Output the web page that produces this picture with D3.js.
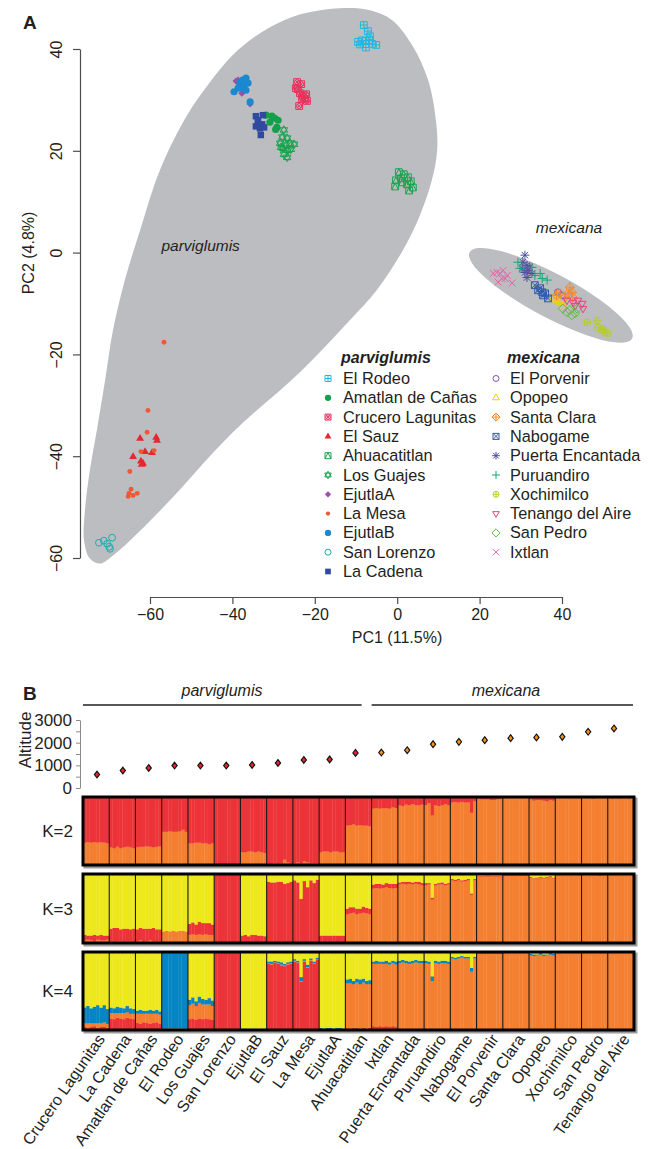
<!DOCTYPE html>
<html><head><meta charset="utf-8">
<script src="https://cdn.jsdelivr.net/npm/d3@7"></script>
<style>
body{margin:0;background:#fff;}
svg{display:block;font-family:"Liberation Sans",Arial,Helvetica,sans-serif;}
</style></head><body>
<svg id="chart" width="651" height="1149"></svg>
<script>
// ---------------- PCA data (PC1, PC2) ----------------
const elRodeo = [[-8.1,44.7],[-7.1,43.5],[-6.6,42.5],[-8.5,41.7],[-9.5,41.4],[-7.6,41.6],[-6.1,41.0],[-5.1,40.8],[-7.6,40.3],[-9.0,40.9],[-6.8,41.7]];
const amatlan = [[-31.8,27.0],[-30.4,26.8],[-29.7,26.4],[-28.9,26.0],[-30.9,25.6],[-29.2,24.6],[-29.5,24.2]];
const crucero = [[-24.3,33.5],[-23.3,33.1],[-24.1,32.1],[-23.6,31.3],[-22.9,30.9],[-22.4,30.1],[-21.9,29.8],[-23.8,28.8],[-23.1,30.3],[-24.6,32.3],[-22.1,31.1]];
const elSauz = [[-62.4,-36.5],[-58.5,-36.3],[-58.3,-36.9],[-61.2,-39.1],[-59.5,-39.3],[-64.1,-40.1],[-62.2,-41.0],[-61.7,-41.4],[-62.0,-41.6]];
const ahuacatitlan = [[0.4,15.8],[1.6,15.4],[2.6,14.8],[3.3,14.0],[-0.3,14.2],[1.2,13.8],[2.4,13.4],[3.8,12.8],[-0.5,13.0],[2.9,12.2],[0.9,14.6]];
const losGuajes = [[-27.5,24.1],[-27.9,22.7],[-26.7,22.5],[-28.4,21.5],[-27.0,21.1],[-26.0,21.5],[-25.0,21.3],[-27.7,20.5],[-26.5,20.1],[-27.5,19.3],[-26.7,18.7],[-28.2,20.7],[-25.8,20.3]];
const ejutlaA = [[-38.6,33.9],[-37.7,31.3],[-39.1,33.7],[-35.7,29.2]];
const laMesa = [[-56.6,-17.6],[-60.5,-31.0],[-60.7,-35.3],[-62.2,-39.1],[-59.0,-38.9],[-64.9,-43.0],[-64.6,-46.5],[-65.3,-47.9],[-64.1,-47.7],[-63.1,-47.3],[-65.1,-47.3]];
const ejutlaB = [[-39.6,31.6],[-38.2,33.3],[-37.5,33.9],[-36.7,34.3],[-37.2,32.8],[-36.2,33.3],[-37.7,32.3],[-38.6,32.3],[-36.7,31.9],[-35.7,29.6]];
const sanLorenzo = [[-72.4,-57.0],[-71.2,-56.6],[-69.2,-56.0],[-69.9,-57.8],[-70.4,-57.2],[-69.7,-58.2]];
const laCadena = [[-34.3,26.8],[-32.6,27.0],[-33.8,25.6],[-32.8,25.2],[-34.3,24.8],[-33.3,24.4],[-32.3,24.6],[-33.1,23.1],[-33.8,26.0]];

const elPorvenir = [[39.0,-7.8],[40.0,-8.4]];
const opopeo = [[38.7,-9.4],[39.5,-9.8],[37.8,-9.0],[40.2,-10.4]];
const santaClara = [[41.9,-6.8],[41.5,-8.0],[42.4,-7.8],[39.5,-8.0],[38.7,-8.4],[40.7,-8.8],[42.6,-8.8]];
const nabogame = [[33.4,-6.4],[34.2,-7.4],[35.2,-7.8],[35.9,-8.0],[36.6,-9.0],[35.4,-8.4],[34.7,-7.0]];
const puertaEncantada = [[31.0,-0.5],[30.5,-1.9],[31.5,-2.5],[30.3,-3.1],[31.7,-3.5],[31.0,-3.9],[32.7,-4.1],[31.5,-4.9],[32.2,-2.9]];
const puruandiro = [[29.3,-1.9],[29.8,-3.1],[34.7,-4.1],[33.4,-4.5],[36.4,-5.4],[35.2,-5.1],[32.7,-2.9]];
const xochimilco = [[46.1,-13.7],[48.5,-13.3],[48.7,-14.7],[49.7,-15.3],[50.4,-15.7],[51.1,-15.9],[49.9,-14.9]];
const tenango = [[41.2,-9.4],[43.9,-9.4],[44.9,-10.0],[45.1,-11.0],[43.2,-10.4],[42.7,-9.8]];
const sanPedro = [[40.2,-11.0],[41.9,-11.3],[43.7,-11.0],[42.4,-12.3],[43.2,-11.9],[41.2,-11.7]];
const ixtlan = [[23.3,-4.1],[24.2,-3.9],[25.0,-4.1],[25.7,-3.5],[26.7,-4.5],[25.4,-5.1],[27.9,-6.0],[24.5,-5.8],[26.2,-5.1]];

const parvNames = ["El Rodeo","Amatlan de Cañas","Crucero Lagunitas","El Sauz","Ahuacatitlan","Los Guajes","EjutlaA","La Mesa","EjutlaB","San Lorenzo","La Cadena"];
const parvColors = ["#23b6e3","#12a04c","#e8325c","#e8262f","#1ba34e","#1ba34e","#9d4fa5","#ef5835","#1b88cf","#17aeb0","#2f4a9f"];
const parvSymbols = ["sqplus","circle","sqcirx","tri","sqtri","star6","diamond","dot","circle","ocircle","square"];
const parvPoints = [elRodeo, amatlan, crucero, elSauz, ahuacatitlan, losGuajes, ejutlaA, laMesa, ejutlaB, sanLorenzo, laCadena];

const mexNames = ["El Porvenir","Opopeo","Santa Clara","Nabogame","Puerta Encantada","Puruandiro","Xochimilco","Tenango del Aire","San Pedro","Ixtlan"];
const mexColors = ["#7d55a7","#f4d00c","#f48a2b","#2f5bab","#4c4ea0","#17a67b","#b6cd2c","#e8407d","#5fbb45","#e95fa8"];
const mexSymbols = ["ocircle","otri","diamplus","sqx","asterisk","plus","cirplus","otridown","odiamond","x"];
const mexPoints = [elPorvenir, opopeo, santaClara, nabogame, puertaEncantada, puruandiro, xochimilco, tenango, sanPedro, ixtlan];

// hull outline of parviglumis (PC1, PC2)
const parvHull = [[-72.1,-61.1],[-74.6,-60.1],[-76.0,-56.6],[-75.8,-50.7],[-74.6,-42.8],[-72.9,-34.9],[-70.9,-25.1],[-69.0,-15.3],[-66.1,-5.4],[-62.4,4.4],[-57.6,16.2],[-51.0,27.0],[-45.4,33.5],[-39.9,38.8],[-33.3,43.1],[-24.8,46.5],[-13.9,48.0],[-6.6,47.6],[-1.3,45.7],[3.6,40.8],[7.5,33.9],[9.4,26.0],[9.7,20.1],[8.4,14.2],[5.5,7.3],[1.4,0.5],[-4.9,-7.3],[-11.5,-13.3],[-23.6,-23.5],[-39.9,-35.3],[-55.9,-49.3],[-64.9,-56.6],[-69.3,-59.7]];
const mexHullCenter = [37.3,-8.4];

const pcTicks = [-60,-40,-20,0,20,40];

// ---------------- Structure data ----------------
const structPops = ["Crucero Lagunitas","La Cadena","Amatlan de Cañas","El Rodeo","Los Guajes","San Lorenzo","EjutlaB","El Sauz","La Mesa","EjutlaA","Ahuacatitlan","Ixtlan","Puerta Encantada","Puruandiro","Nabogame","El Porvenir","Santa Clara","Opopeo","Xochimilco","San Pedro","Tenango del Aire"];
const altitude = [593,770,885,990,990,990,1018,1106,1239,1262,1549,1566,1668,1934,2035,2111,2199,2230,2257,2478,2628];
const altTicks = [0,500,1000,1500,2000,2500,3000];

const k2Orange = [
 [0.33,0.34,0.33,0.34,0.33,0.34,0.33,0.32],
 [0.26,0.25,0.27,0.25,0.26,0.27,0.26,0.25],
 [0.26,0.27,0.27,0.28,0.27,0.26,0.27,0.28],
 [0.49,0.49,0.50,0.49,0.49,0.50,0.52,0.49],
 [0.32,0.32,0.33,0.33,0.32,0.32,0.31,0.32],
 [0.01,0.01,0.01,0.00,0.01,0.01,0.00,0.01],
 [0.19,0.19,0.20,0.20,0.19,0.20,0.19,0.18],
 [0.02,0.02,0.03,0.02,0.03,0.08,0.04,0.02],
 [0.03,0.04,0.03,0.06,0.04,0.03,0.03,0.03],
 [0.19,0.20,0.20,0.19,0.20,0.20,0.19,0.19],
 [0.58,0.59,0.60,0.58,0.59,0.58,0.58,0.57],
 [0.83,0.84,0.83,0.84,0.84,0.83,0.85,0.84],
 [0.88,0.87,0.89,0.88,0.90,0.88,0.88,0.89],
 [0.88,0.91,0.73,0.88,0.87,0.88,0.90,0.88],
 [0.92,0.93,0.92,0.93,0.92,0.92,0.77,0.94],
 [0.98,0.97,0.97,0.97,0.96,0.96,0.97,0.98],
 [0.99,0.99,0.99,0.99,0.99,0.99,0.99,0.99],
 [0.97,0.95,0.96,0.96,0.95,0.94,0.96,0.95],
 [0.99,0.99,0.99,0.99,0.99,0.99,0.99,0.99],
 [0.99,0.99,0.99,0.98,0.99,0.99,0.99,0.99],
 [0.99,0.98,0.99,0.98,0.99,0.99,0.98,0.99]
];
const k3Orange = [
 [0.04,0.05,0.04,0.03,0.05,0.04,0.04,0.05],
 [0.03,0.02,0.03,0.03,0.02,0.03,0.03,0.02],
 [0.03,0.04,0.02,0.03,0.04,0.03,0.02,0.03],
 [0.17,0.18,0.17,0.18,0.17,0.18,0.18,0.17],
 [0.12,0.13,0.12,0.13,0.12,0.13,0.12,0.12],
 [0.00,0.01,0.00,0.00,0.01,0.00,0.00,0.01],
 [0.01,0.01,0.01,0.02,0.01,0.01,0.01,0.01],
 [0.01,0.02,0.01,0.01,0.02,0.01,0.01,0.01],
 [0.01,0.01,0.02,0.01,0.01,0.01,0.01,0.01],
 [0.02,0.01,0.02,0.01,0.02,0.01,0.02,0.01],
 [0.42,0.43,0.44,0.42,0.43,0.44,0.43,0.42],
 [0.79,0.80,0.79,0.80,0.81,0.80,0.79,0.80],
 [0.85,0.86,0.85,0.86,0.85,0.86,0.85,0.84],
 [0.84,0.85,0.63,0.84,0.85,0.85,0.84,0.85],
 [0.91,0.90,0.91,0.89,0.90,0.91,0.70,0.91],
 [0.96,0.96,0.96,0.97,0.96,0.96,0.96,0.96],
 [0.98,0.98,0.98,0.98,0.98,0.98,0.98,0.98],
 [0.95,0.93,0.94,0.95,0.94,0.95,0.96,0.94],
 [0.99,0.99,0.99,0.99,0.99,0.99,0.99,0.99],
 [0.99,0.99,0.99,0.99,0.99,0.98,0.99,0.99],
 [0.99,0.99,0.99,0.99,0.99,0.99,0.99,0.99]
];
const k3Red = [
 [0.08,0.06,0.07,0.09,0.06,0.08,0.07,0.06],
 [0.18,0.20,0.19,0.17,0.19,0.18,0.17,0.19],
 [0.17,0.18,0.19,0.18,0.17,0.19,0.18,0.17],
 [0.00,0.00,0.00,0.00,0.00,0.00,0.00,0.00],
 [0.16,0.17,0.15,0.18,0.17,0.16,0.17,0.15],
 [0.99,0.98,0.99,0.99,0.98,0.99,0.99,0.98],
 [0.10,0.11,0.09,0.10,0.11,0.10,0.10,0.09],
 [0.88,0.86,0.87,0.88,0.87,0.85,0.86,0.88],
 [0.90,0.87,0.62,0.89,0.80,0.90,0.86,0.91],
 [0.09,0.10,0.09,0.10,0.09,0.10,0.09,0.10],
 [0.08,0.09,0.08,0.08,0.07,0.09,0.08,0.08],
 [0.06,0.06,0.07,0.05,0.06,0.06,0.07,0.06],
 [0.03,0.03,0.04,0.03,0.03,0.03,0.04,0.03],
 [0.03,0.02,0.03,0.02,0.02,0.03,0.02,0.02],
 [0.02,0.02,0.02,0.02,0.02,0.02,0.02,0.02],
 [0.01,0.01,0.01,0.01,0.01,0.01,0.01,0.01],
 [0.01,0.01,0.01,0.01,0.01,0.01,0.01,0.01],
 [0.01,0.01,0.01,0.01,0.01,0.01,0.01,0.01],
 [0.00,0.00,0.00,0.00,0.00,0.00,0.00,0.00],
 [0.00,0.00,0.00,0.00,0.00,0.01,0.00,0.00],
 [0.01,0.00,0.01,0.00,0.01,0.00,0.01,0.00]
];
const k4Red = [
 [0.04,0.03,0.04,0.05,0.03,0.04,0.04,0.03],
 [0.15,0.14,0.16,0.15,0.14,0.16,0.15,0.14],
 [0.09,0.08,0.10,0.09,0.08,0.09,0.10,0.08],
 [0.01,0.01,0.01,0.01,0.01,0.01,0.01,0.01],
 [0.14,0.15,0.13,0.15,0.14,0.15,0.14,0.13],
 [0.99,0.99,0.99,0.99,0.99,0.99,0.99,0.99],
 [0.01,0.01,0.00,0.01,0.01,0.00,0.01,0.01],
 [0.85,0.84,0.86,0.85,0.83,0.82,0.84,0.85],
 [0.88,0.86,0.62,0.88,0.80,0.89,0.85,0.90],
 [0.01,0.00,0.01,0.01,0.00,0.01,0.01,0.00],
 [0.03,0.02,0.03,0.03,0.02,0.03,0.02,0.03],
 [0.05,0.04,0.05,0.04,0.05,0.04,0.05,0.04],
 [0.01,0.01,0.01,0.01,0.01,0.01,0.01,0.01],
 [0.01,0.01,0.01,0.01,0.01,0.01,0.01,0.01],
 [0.01,0.01,0.01,0.01,0.01,0.01,0.01,0.01],
 [0.01,0.01,0.01,0.01,0.01,0.01,0.01,0.01],
 [0.01,0.01,0.01,0.01,0.01,0.01,0.01,0.01],
 [0.01,0.01,0.01,0.01,0.01,0.01,0.01,0.01],
 [0.01,0.01,0.01,0.01,0.01,0.01,0.01,0.01],
 [0.01,0.01,0.01,0.01,0.01,0.01,0.01,0.01],
 [0.01,0.01,0.01,0.01,0.01,0.01,0.01,0.01]
];
const k4Orange = [
 [0.05,0.06,0.05,0.04,0.06,0.05,0.06,0.05],
 [0.07,0.08,0.06,0.07,0.08,0.07,0.06,0.07],
 [0.12,0.13,0.11,0.12,0.13,0.12,0.11,0.12],
 [0.01,0.01,0.01,0.01,0.01,0.01,0.01,0.01],
 [0.18,0.19,0.18,0.20,0.19,0.18,0.19,0.18],
 [0.00,0.00,0.00,0.00,0.00,0.00,0.00,0.00],
 [0.00,0.00,0.00,0.00,0.00,0.00,0.00,0.00],
 [0.01,0.01,0.01,0.01,0.01,0.01,0.01,0.01],
 [0.01,0.01,0.01,0.01,0.01,0.01,0.01,0.01],
 [0.00,0.00,0.00,0.00,0.00,0.00,0.00,0.00],
 [0.57,0.58,0.56,0.58,0.57,0.58,0.57,0.56],
 [0.80,0.81,0.80,0.81,0.80,0.80,0.81,0.80],
 [0.85,0.86,0.85,0.84,0.85,0.86,0.85,0.85],
 [0.85,0.84,0.62,0.85,0.84,0.85,0.85,0.84],
 [0.91,0.90,0.91,0.92,0.91,0.91,0.74,0.91],
 [0.97,0.97,0.97,0.97,0.97,0.97,0.97,0.97],
 [0.98,0.98,0.98,0.98,0.98,0.98,0.98,0.98],
 [0.95,0.94,0.95,0.96,0.94,0.95,0.96,0.95],
 [0.98,0.98,0.98,0.98,0.98,0.98,0.98,0.98],
 [0.98,0.98,0.98,0.98,0.98,0.98,0.98,0.98],
 [0.98,0.98,0.98,0.98,0.98,0.98,0.98,0.98]
];
const k4Blue = [
 [0.20,0.22,0.19,0.21,0.23,0.20,0.22,0.19],
 [0.07,0.06,0.08,0.07,0.06,0.08,0.07,0.06],
 [0.04,0.05,0.04,0.04,0.05,0.04,0.05,0.04],
 [0.97,0.97,0.97,0.97,0.97,0.97,0.97,0.97],
 [0.07,0.08,0.06,0.08,0.07,0.06,0.08,0.07],
 [0.00,0.00,0.00,0.00,0.00,0.00,0.00,0.00],
 [0.01,0.01,0.01,0.01,0.01,0.01,0.01,0.01],
 [0.02,0.03,0.02,0.02,0.03,0.02,0.02,0.02],
 [0.02,0.02,0.05,0.02,0.03,0.02,0.02,0.02],
 [0.02,0.02,0.02,0.02,0.02,0.02,0.02,0.02],
 [0.05,0.06,0.04,0.05,0.06,0.05,0.04,0.05],
 [0.03,0.04,0.03,0.03,0.04,0.03,0.03,0.04],
 [0.03,0.03,0.03,0.03,0.03,0.03,0.03,0.03],
 [0.03,0.03,0.06,0.03,0.03,0.03,0.03,0.03],
 [0.02,0.02,0.02,0.02,0.02,0.02,0.05,0.02],
 [0.01,0.01,0.01,0.01,0.01,0.01,0.01,0.01],
 [0.01,0.01,0.01,0.01,0.01,0.01,0.01,0.01],
 [0.02,0.02,0.01,0.02,0.02,0.01,0.02,0.02],
 [0.01,0.01,0.01,0.01,0.01,0.01,0.01,0.01],
 [0.01,0.01,0.01,0.01,0.01,0.01,0.01,0.01],
 [0.01,0.01,0.01,0.01,0.01,0.01,0.01,0.01]
];

const cRed = "#ec3338", cOrange = "#f47f30", cYellow = "#ece81c", cBlue = "#0585c4";

// ---------------- drawing ----------------
const svg = d3.select("#chart");
const FONT = '"Liberation Sans",Arial,Helvetica,sans-serif';

function symbolD(t, r) {
  const p = d3.path();
  const sq = (s) => p.rect(-s, -s, 2*s, 2*s);
  const circ = (s) => { p.moveTo(s, 0); p.arc(0, 0, s, 0, 2*Math.PI); };
  const plus = (s) => { p.moveTo(-s,0); p.lineTo(s,0); p.moveTo(0,-s); p.lineTo(0,s); };
  const xx = (s) => { p.moveTo(-s,-s); p.lineTo(s,s); p.moveTo(-s,s); p.lineTo(s,-s); };
  const triUp = (s) => { p.moveTo(0,-s*1.25); p.lineTo(s*1.1,s*0.65); p.lineTo(-s*1.1,s*0.65); p.closePath(); };
  const triDn = (s) => { p.moveTo(0,s*1.25); p.lineTo(s*1.1,-s*0.65); p.lineTo(-s*1.1,-s*0.65); p.closePath(); };
  const diam = (s) => { p.moveTo(0,-s); p.lineTo(s,0); p.lineTo(0,s); p.lineTo(-s,0); p.closePath(); };
  switch (t) {
    case "sqplus": sq(r); plus(r); break;
    case "sqcirx": sq(r); circ(r*0.75); xx(r*0.55); break;
    case "sqtri": sq(r); p.moveTo(-r,r); p.lineTo(0,-r); p.lineTo(r,r); break;
    case "star6": triUp(r); triDn(r); break;
    case "ocircle": circ(r); break;
    case "otri": triUp(r); break;
    case "otridown": triDn(r); break;
    case "diamplus": diam(r*1.35); plus(r*1.35); break;
    case "sqx": sq(r); xx(r); break;
    case "asterisk": plus(r*1.3); xx(r*0.95); break;
    case "plus": plus(r*1.35); break;
    case "cirplus": circ(r); plus(r); break;
    case "odiamond": diam(r*1.35); break;
    case "x": xx(r); break;
    case "circle": circ(r*1.05); break;
    case "dot": circ(r*0.72); break;
    case "tri": triUp(r*1.05); break;
    case "diamond": diam(r*1.05); break;
    case "square": sq(r*0.95); break;
  }
  return p.toString();
}
const filledSym = new Set(["circle","dot","tri","diamond","square"]);
function styleSym(sel, type, color) {
  if (filledSym.has(type)) sel.attr("fill", color).attr("stroke", "none");
  else sel.attr("fill", "none").attr("stroke", color).attr("stroke-width", 1);
}

// ----- Panel A -----
const xPC = d3.scaleLinear().domain([-60, 40]).range([150, 562]);
const yPC = d3.scaleLinear().domain([-60, 40]).range([558, 49]);

svg.append("text").attr("x", 23).attr("y", 29).attr("font-size", 19).attr("font-weight", "bold").attr("fill", "#231f20").text("A");

svg.append("path")
  .attr("d", d3.line().x(d => xPC(d[0])).y(d => yPC(d[1])).curve(d3.curveCatmullRomClosed.alpha(0.5))(parvHull))
  .attr("fill", "#bcbdc0");
svg.append("ellipse")
  .attr("cx", xPC(mexHullCenter[0])).attr("cy", yPC(mexHullCenter[1]))
  .attr("rx", 92).attr("ry", 22)
  .attr("transform", `rotate(28 ${xPC(mexHullCenter[0])} ${yPC(mexHullCenter[1])})`)
  .attr("fill", "#bcbdc0");

svg.append("text").attr("x", xPC(-47.7)).attr("y", yPC(0.4)).attr("text-anchor", "middle")
  .attr("font-size", 15.5).attr("font-style", "italic").attr("fill", "#231f20").text("parviglumis");
svg.append("text").attr("x", xPC(41.7)).attr("y", yPC(3.8)).attr("text-anchor", "middle")
  .attr("font-size", 15.5).attr("font-style", "italic").attr("fill", "#231f20").text("mexicana");

const ptsG = svg.append("g");
function drawPop(points, type, color) {
  const g = ptsG.append("g");
  points.forEach(d => {
    const s = g.append("path").attr("d", symbolD(type, 3.4))
      .attr("transform", `translate(${xPC(d[0])},${yPC(d[1])})`);
    styleSym(s, type, color);
  });
}
parvPoints.forEach((pts, i) => drawPop(pts, parvSymbols[i], parvColors[i]));
mexPoints.forEach((pts, i) => drawPop(pts, mexSymbols[i], mexColors[i]));

// axes
const xAx = svg.append("g").attr("transform", "translate(0,597)")
  .call(d3.axisBottom(xPC).tickValues(pcTicks).tickSize(7).tickSizeOuter(0).tickPadding(5));
const yAx = svg.append("g").attr("transform", "translate(80,0)")
  .call(d3.axisLeft(yPC).tickValues(pcTicks).tickSize(7).tickSizeOuter(0));
[xAx, yAx].forEach(a => {
  a.select(".domain").attr("stroke", "#4d4d4f").attr("stroke-width", 1.2);
  a.selectAll(".tick line").attr("stroke", "#4d4d4f").attr("stroke-width", 1.2);
  a.selectAll("text").attr("font-size", 16).attr("fill", "#231f20").attr("font-family", FONT);
});
yAx.selectAll(".tick text").attr("text-anchor", "middle").attr("x", null).attr("dy", null)
  .attr("transform", "translate(-18,0) rotate(-90)");
svg.append("text").attr("x", 397).attr("y", 643).attr("text-anchor", "middle").attr("font-size", 16)
  .attr("fill", "#231f20").text("PC1 (11.5%)");
svg.append("text").attr("transform", "translate(34,253) rotate(-90)").attr("text-anchor", "middle")
  .attr("font-size", 16).attr("fill", "#231f20").text("PC2 (4.8%)");

// legend
const legY0 = 384, legStep = 19.3;
svg.append("text").attr("x", 341).attr("y", 363).attr("font-size", 16).attr("font-weight", "bold")
  .attr("font-style", "italic").attr("fill", "#231f20").text("parviglumis");
svg.append("text").attr("x", 507).attr("y", 363).attr("font-size", 16).attr("font-weight", "bold")
  .attr("font-style", "italic").attr("fill", "#231f20").text("mexicana");
function legendCol(names, colors, syms, sx, tx) {
  names.forEach((n, i) => {
    const y = legY0 + i * legStep;
    const s = svg.append("path").attr("d", symbolD(syms[i], 3.0))
      .attr("transform", `translate(${sx},${y - 5.5})`);
    styleSym(s, syms[i], colors[i]);
    svg.append("text").attr("x", tx).attr("y", y).attr("font-size", 16.3).attr("fill", "#231f20").text(n);
  });
}
legendCol(parvNames, parvColors, parvSymbols, 328, 343);
legendCol(mexNames, mexColors, mexSymbols, 496, 510);

// ----- Panel B -----
svg.append("text").attr("x", 23).attr("y", 700).attr("font-size", 19).attr("font-weight", "bold").attr("fill", "#231f20").text("B");

const xPop = d3.scaleBand().domain(structPops).range([83, 634]).paddingInner(0);
const xAlt = d3.scalePoint().domain(structPops).range([97, 614]);
const yAlt = d3.scaleLinear().domain([0, 3000]).range([788, 720]);

const nParv = 11;
svg.append("line").attr("x1", xPop(structPops[0])).attr("x2", xPop(structPops[nParv-1]) + xPop.bandwidth() - 10)
  .attr("y1", 705).attr("y2", 705).attr("stroke", "#231f20").attr("stroke-width", 1.3);
svg.append("line").attr("x1", xPop(structPops[nParv])).attr("x2", xPop(structPops[20]) + xPop.bandwidth() - 1)
  .attr("y1", 705).attr("y2", 705).attr("stroke", "#231f20").attr("stroke-width", 1.3);
svg.append("text").attr("x", 222).attr("y", 696).attr("text-anchor", "middle").attr("font-size", 16)
  .attr("font-style", "italic").attr("fill", "#231f20").text("parviglumis");
svg.append("text").attr("x", 506).attr("y", 696).attr("text-anchor", "middle").attr("font-size", 16)
  .attr("font-style", "italic").attr("fill", "#231f20").text("mexicana");

const altAx = svg.append("g").attr("transform", "translate(80,0)")
  .call(d3.axisLeft(yAlt).tickValues(altTicks).tickSize(4).tickSizeOuter(0).tickPadding(4)
    .tickFormat(d => d % 1000 === 0 ? d : ""));
altAx.select(".domain").attr("stroke", "#8a8a8c");
altAx.selectAll(".tick line").attr("stroke", "#8a8a8c");
altAx.selectAll("text").attr("font-size", 17).attr("fill", "#231f20").attr("font-family", FONT);
svg.append("text").attr("transform", "translate(31,740) rotate(-90)").attr("text-anchor", "middle")
  .attr("font-size", 17).attr("fill", "#231f20").text("Altitude");

svg.append("g").selectAll("path").data(structPops).join("path")
  .attr("d", d3.symbol(d3.symbolDiamond, 18)())
  .attr("transform", d => `translate(${xAlt(d)},${yAlt(altitude[structPops.indexOf(d)])}) scale(1.15,0.85)`)
  .attr("fill", (d, i) => i < nParv ? "#e8262f" : "#f7941d")
  .attr("stroke", "#111").attr("stroke-width", 1.1);

// structure panels
const panels = [
  {label: "K=2", top: 797, bottom: 865, comps: [k2Orange], colors: [cOrange, cRed]},
  {label: "K=3", top: 874, bottom: 943, comps: [k3Orange, k3Red], colors: [cOrange, cRed, cYellow]},
  {label: "K=4", top: 952, bottom: 1030, comps: [k4Red, k4Orange, k4Blue], colors: [cRed, cOrange, cBlue, cYellow]}
];
panels.forEach(pn => {
  const g = svg.append("g");
  const yK = d3.scaleLinear().domain([0, 1]).range([pn.bottom, pn.top]);
  g.append("rect").attr("x", xPop.range()[0] + 2).attr("y", pn.top + 2)
    .attr("width", xPop.range()[1] - xPop.range()[0]).attr("height", pn.bottom - pn.top)
    .attr("fill", "none").attr("stroke", "#9b9b9b").attr("stroke-width", 3);
  structPops.forEach((pop, pi) => {
    const nInd = pn.comps[0][pi].length;
    const xi = d3.scaleBand().domain(d3.range(nInd)).range([xPop(pop), xPop(pop) + xPop.bandwidth()]);
    for (let k = 0; k < nInd; k++) {
      const vals = pn.comps.map(c => c[pi][k]);
      const sum = d3.sum(vals);
      vals.push(Math.max(0, 1 - sum));
      let acc = 0;
      vals.forEach((v, ci) => {
        if (v <= 0) return;
        g.append("rect").attr("x", xi(k)).attr("width", xi.bandwidth() + 0.3)
          .attr("y", yK(Math.min(1, acc + v))).attr("height", yK(acc) - yK(Math.min(1, acc + v)) + 0.2)
          .attr("fill", pn.colors[ci]);
        acc += v;
      });
    }
  });
  structPops.slice(1).forEach(pop => {
    g.append("line").attr("x1", xPop(pop)).attr("x2", xPop(pop)).attr("y1", pn.top).attr("y2", pn.bottom)
      .attr("stroke", "#1a1a1a").attr("stroke-width", 1.1);
  });
  g.append("rect").attr("x", xPop.range()[0]).attr("y", pn.top)
    .attr("width", xPop.range()[1] - xPop.range()[0]).attr("height", pn.bottom - pn.top)
    .attr("fill", "none").attr("stroke", "#000").attr("stroke-width", 3);
  svg.append("text").attr("x", 73).attr("y", (pn.top + pn.bottom) / 2 + 6).attr("text-anchor", "end")
    .attr("font-size", 17).attr("fill", "#231f20").text(pn.label);
});

// population labels
svg.append("g").selectAll("text").data(structPops).join("text")
  .attr("transform", d => `translate(${xPop(d) + xPop.bandwidth() / 2 + 5},${1036}) rotate(-55)`)
  .attr("text-anchor", "end").attr("dy", "0.35em")
  .attr("font-size", 16).attr("fill", "#231f20").text(d => d);
</script></body></html>
